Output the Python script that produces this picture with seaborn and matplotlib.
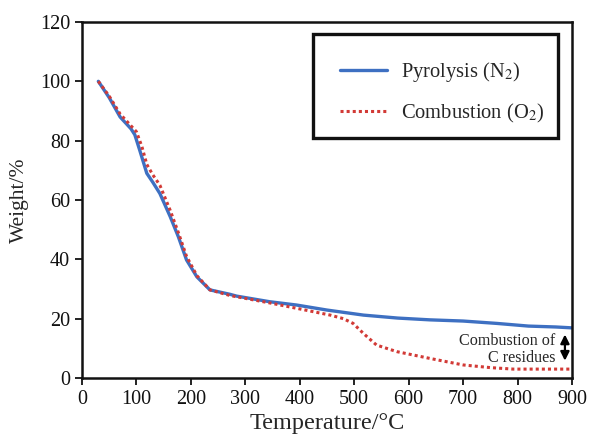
import numpy as np
import pandas as pd
import matplotlib
matplotlib.use("Agg")
import matplotlib.pyplot as plt
from matplotlib.patches import Rectangle
import seaborn as sns

# Pyrolysis (N2)
temp_n2 = [30, 50, 70, 90, 97, 106, 119, 130, 143, 162, 177, 192, 211, 235, 272, 284, 345, 394, 450, 517, 580, 639, 700, 762, 820, 870, 900]
weight_n2 = [100, 94.5, 88, 84, 82, 76.8, 69, 66, 62.2, 54.4, 47.6, 39.8, 34.1, 29.7, 28.2, 27.6, 25.7, 24.6, 22.9, 21.2, 20.2, 19.6, 19.2, 18.4, 17.5, 17.2, 16.9]

# Combustion (O2)
temp_o2 = [30, 50, 70, 90, 100, 110, 119, 130, 143, 162, 177, 192, 211, 235, 272, 345, 394, 456, 480, 498, 517, 541, 578, 639, 700, 750, 792, 850, 896]
weight_o2 = [100, 95, 89, 85, 83, 78, 72, 68.5, 65, 56.5, 49, 41, 34.5, 29.7, 27.8, 25.3, 23.5, 21.2, 20, 18.4, 15, 11.1, 8.9, 6.6, 4.4, 3.5, 3.0, 3.0, 3.0]

series_labels = ["Pyrolysis (N$_2$)", "Combustion (O$_2$)"]
x_ticks = [0, 100, 200, 300, 400, 500, 600, 700, 800, 900]
y_ticks = [0, 20, 40, 60, 80, 100, 120]

df = pd.concat([
    pd.DataFrame({"T": temp_n2, "W": weight_n2, "s": series_labels[0]}),
    pd.DataFrame({"T": temp_o2, "W": weight_o2, "s": series_labels[1]}),
])

sns.set_style("ticks")
plt.rcParams["font.family"] = ["Liberation Serif", "DejaVu Serif"]
plt.rcParams["mathtext.fontset"] = "stix"

fig = plt.figure(figsize=(5.92, 4.38), dpi=100)
ax = fig.add_axes([82/592, 60/438, 490/592, 356/438])

palette = {series_labels[0]: "#3e70c2", series_labels[1]: "#d23a36"}
sns.lineplot(data=df, x="T", y="W", hue="s", palette=palette, ax=ax, legend=False, sort=False, estimator=None)
lines = ax.get_lines()
lines[0].set_linewidth(2.4)
lines[1].set_linewidth(2.2)
lines[1].set_linestyle((0, (1, 1)))

ax.set_xlim(0, 900)
ax.set_ylim(0, 120)
ax.set_xticks(x_ticks)
ax.set_yticks(y_ticks)
ax.tick_params(direction="out", length=5, width=1.3, labelsize=14.5, colors="#111111")
for s in ax.spines.values():
    s.set_linewidth(1.8)
    s.set_color("#111111")
ax.set_xlabel("Temperature/°C", fontsize=17.5, labelpad=3)
ax.set_ylabel("Weight/%", fontsize=15.5, labelpad=8)

# legend frame
ax.add_patch(Rectangle((0.471, 0.674), 0.500, 0.292, transform=ax.transAxes,
                       fill=True, facecolor="white", edgecolor="#111111", lw=2.4, zorder=4))
leg = ax.legend(lines, series_labels, loc="center left", bbox_to_anchor=(0.5265, 0.802),
                frameon=False, fontsize=14.8, handlelength=2.3,
                borderpad=0, labelspacing=0.85, handletextpad=0.65, borderaxespad=0)
leg.set_zorder(5)

ax.text(869, 9.6, "Combustion of\nC residues", ha="right", va="center", fontsize=11.6, linespacing=1.05)
ax.annotate("", xy=(887, 4.9), xytext=(887, 15.6),
            arrowprops=dict(arrowstyle="<|-|>", color="black", lw=1.6, mutation_scale=13))

fig.savefig("out.png", dpi=100)
